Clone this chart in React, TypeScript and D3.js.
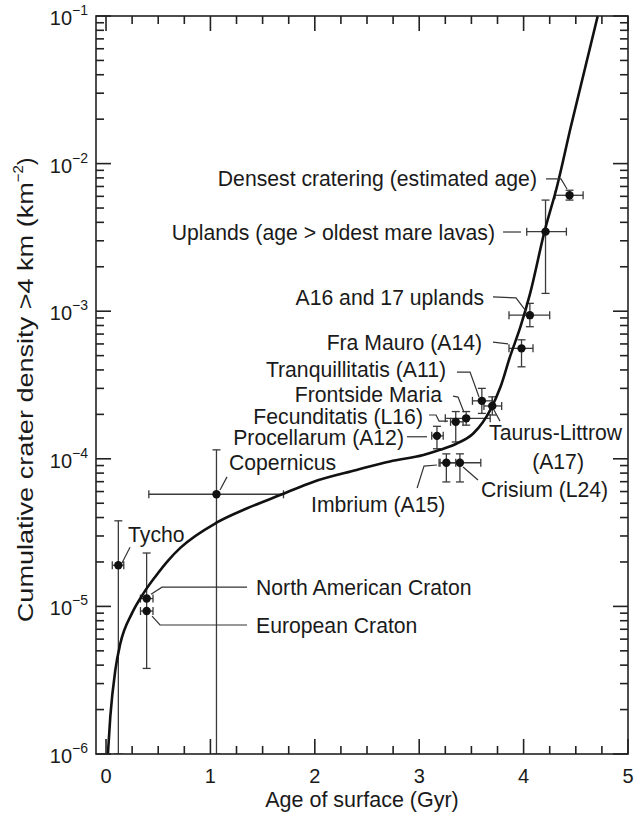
import React from "react";
import * as d3 from "d3";

const W = 639;
const H = 817;
const FRAME = { left: 96, right: 628, top: 16, bottom: 754 };
const FONT = "'Liberation Sans', Arial, Helvetica, sans-serif";
const INK = "#1a1a1a";

// Crater-production curve: age (Gyr) vs cumulative density of craters > 4 km (km^-2)
const curveAge = [0.018, 0.041, 0.089, 0.137, 0.248, 0.36, 0.472, 0.599, 0.714, 1.058, 1.352, 1.687, 1.99, 2.4, 2.72, 3.04, 3.2, 3.36, 3.52, 3.68, 3.78, 3.87, 3.97, 4.06, 4.2, 4.32, 4.45, 4.71];
const curveDensity = [1.0e-6, 1.79e-6, 3.7e-6, 5.6e-6, 8.97e-6, 1.23e-5, 1.59e-5, 2.06e-5, 2.5e-5, 3.69e-5, 4.62e-5, 5.75e-5, 7.0e-5, 8.4e-5, 9.6e-5, 1.06e-4, 1.15e-4, 1.27e-4, 1.49e-4, 2.14e-4, 3.09e-4, 4.92e-4, 7.85e-4, 1.3e-3, 3.46e-3, 7.0e-3, 1.75e-2, 1.0e-1];

// Dated surfaces with age and density uncertainties
const surfaceNames = ["Tycho", "Copernicus", "North American Craton", "European Craton", "Procellarum (A12)", "Fecunditatis (L16)", "Frontside Maria", "Tranquillitatis (A11)", "Taurus-Littrow (A17)", "Imbrium (A15)", "Crisium (L24)", "Fra Mauro (A14)", "A16 and 17 uplands", "Uplands", "Densest cratering"];
const surfaceAge = [0.118, 1.058, 0.389, 0.389, 3.17, 3.35, 3.45, 3.6, 3.7, 3.26, 3.39, 3.98, 4.06, 4.21, 4.44];
const ageLow = [0.06, 0.41, 0.33, 0.33, 3.12, 3.3, 3.25, 3.51, 3.62, 3.19, 3.2, 3.86, 3.86, 4.03, 4.3];
const ageHigh = [0.17, 1.7, 0.45, 0.45, 3.23, 3.42, 3.68, 3.7, 3.79, 3.35, 3.59, 4.09, 4.25, 4.41, 4.57];
const surfaceDensity = [1.9e-5, 5.75e-5, 1.13e-5, 9.3e-6, 1.43e-4, 1.78e-4, 1.88e-4, 2.47e-4, 2.28e-4, 9.4e-5, 9.4e-5, 5.6e-4, 9.4e-4, 3.46e-3, 6.1e-3];
const densityLow = [1e-6, 1e-6, 3.8e-6, 9.3e-6, 1.17e-4, 1.3e-4, 1.69e-4, 2.03e-4, 1.98e-4, 6.97e-5, 6.97e-5, 4.2e-4, 7.85e-4, 1.32e-3, 5.66e-3];
const densityHigh = [3.8e-5, 1.15e-4, 2.3e-5, 9.3e-6, 1.66e-4, 2.09e-4, 2.09e-4, 3.0e-4, 2.63e-4, 1.08e-4, 1.08e-4, 6.4e-4, 1.13e-3, 5.66e-3, 6.6e-3];

const xTicks = d3.range(0, 5.001, 0.25);
const xLabels = [0, 1, 2, 3, 4, 5];
const decadeExponents = [-1, -2, -3, -4, -5, -6];

// Annotation layout in data units: label anchor and leader-line vertices
type Note = { lines: string[]; at: [number, number]; anchor: "start" | "end"; leader: [number, number][] };
const notes: Note[] = [
  { lines: ["Densest cratering (estimated age)"], at: [4.128, 7.98e-3], anchor: "end", leader: [[4.215, 7.87e-3], [4.358, 7.87e-3], [4.416, 6.73e-3]] },
  { lines: ["Uplands (age > oldest mare lavas)"], at: [3.726, 3.44e-3], anchor: "end", leader: [[3.803, 3.44e-3], [3.975, 3.44e-3]] },
  { lines: ["A16 and 17 uplands"], at: [3.621, 1.23e-3], anchor: "end", leader: [[3.707, 1.25e-3], [3.927, 1.23e-3], [4.023, 1.0e-3]] },
  { lines: ["Fra Mauro (A14)"], at: [3.602, 6.1e-4], anchor: "end", leader: [[3.707, 6.18e-4], [3.851, 6.0e-4]] },
  { lines: ["Tranquillitatis (A11)"], at: [3.257, 4.0e-4], anchor: "end", leader: [[3.362, 3.87e-4], [3.487, 3.87e-4], [3.573, 2.62e-4]] },
  { lines: ["Frontside Maria"], at: [3.218, 2.72e-4], anchor: "end", leader: [[3.324, 2.66e-4], [3.372, 2.62e-4], [3.429, 2.07e-4]] },
  { lines: ["Fecunditatis (L16)"], at: [3.036, 1.93e-4], anchor: "end", leader: [[3.094, 1.98e-4], [3.161, 1.98e-4], [3.19, 1.8e-4], [3.276, 1.8e-4]] },
  { lines: ["Procellarum (A12)"], at: [2.854, 1.4e-4], anchor: "end", leader: [[2.883, 1.41e-4], [3.075, 1.41e-4]] },
  { lines: ["Copernicus"], at: [1.178, 9.37e-5], anchor: "start", leader: [[1.159, 7.54e-5], [1.092, 6.15e-5]] },
  { lines: ["Imbrium (A15)"], at: [1.964, 4.94e-5], anchor: "start", leader: [[2.98, 6.34e-5], [3.046, 8.93e-5], [3.17, 9.08e-5]] },
  { lines: ["Crisium (L24)"], at: [3.592, 6.15e-5], anchor: "start", leader: [[3.42, 8.8e-5], [3.563, 7.18e-5]] },
  { lines: ["Taurus-Littrow", "(A17)"], at: [3.669, 1.5e-4], anchor: "start", leader: [[3.716, 2.14e-4], [3.774, 1.8e-4]] },
  { lines: ["Tycho"], at: [0.211, 3.05e-5], anchor: "start", leader: [[0.23, 2.52e-5], [0.153, 1.97e-5]] },
  { lines: ["North American Craton"], at: [1.437, 1.35e-5], anchor: "start", leader: [[1.351, 1.35e-5], [0.536, 1.35e-5], [0.431, 1.21e-5]] },
  { lines: ["European Craton"], at: [1.437, 7.48e-6], anchor: "start", leader: [[1.351, 7.48e-6], [0.517, 7.48e-6], [0.441, 8.6e-6]] },
];

export default function App() {
  const x = d3.scaleLinear().domain([-0.096, 5]).range([FRAME.left, FRAME.right]);
  const y = d3.scaleLog().domain([1e-6, 1e-1]).range([FRAME.bottom, FRAME.top]);

  const curvePts: [number, number][] = curveAge.map((a, i) => [a, curveDensity[i]]);
  const curvePath = d3
    .line<[number, number]>()
    .x((d) => x(d[0]))
    .y((d) => y(d[1]))
    .curve(d3.curveMonotoneX)(curvePts) as string;

  const leaderPath = d3
    .line<[number, number]>()
    .x((d) => x(d[0]))
    .y((d) => y(d[1]));

  const yTicks = y.ticks();
  const isDecade = (v: number) => Math.abs(Math.log10(v) - Math.round(Math.log10(v))) < 1e-6;

  const MAJOR = 15;
  const MINOR = 8;
  const CAP = 4;
  const LABEL_SIZE = 21.2;

  return (
    <svg
      width={W}
      height={H}
      viewBox={`0 0 ${W} ${H}`}
      style={{ position: "absolute", left: 0, top: 0, display: "block", background: "#fff" }}
      fontFamily={FONT}
    >
      <defs>
        <clipPath id="plot-area">
          <rect x={FRAME.left} y={FRAME.top} width={FRAME.right - FRAME.left} height={FRAME.bottom - FRAME.top} />
        </clipPath>
      </defs>

      {/* error bars */}
      <g clipPath="url(#plot-area)" stroke="#3a3a3a" strokeWidth={1.3} fill="none">
        {surfaceNames.map((name, i) => {
          const cx = x(surfaceAge[i]);
          const cy = y(surfaceDensity[i]);
          const x0 = x(ageLow[i]);
          const x1 = x(ageHigh[i]);
          const yTop = y(densityHigh[i]);
          const yBot = y(densityLow[i]);
          return (
            <g key={name}>
              <line x1={x0} x2={x1} y1={cy} y2={cy} />
              <line x1={x0} x2={x0} y1={cy - CAP} y2={cy + CAP} />
              <line x1={x1} x2={x1} y1={cy - CAP} y2={cy + CAP} />
              {yBot - yTop > 0.5 && (
                <>
                  <line x1={cx} x2={cx} y1={yTop} y2={yBot} />
                  <line x1={cx - CAP} x2={cx + CAP} y1={yTop} y2={yTop} />
                  <line x1={cx - CAP} x2={cx + CAP} y1={yBot} y2={yBot} />
                </>
              )}
            </g>
          );
        })}
      </g>

      {/* production curve */}
      <g clipPath="url(#plot-area)">
        <path d={curvePath} fill="none" stroke="#111" strokeWidth={2.6} />
      </g>

      {/* dated surfaces */}
      <g fill="#111">
        {surfaceNames.map((name, i) => (
          <circle key={name} cx={x(surfaceAge[i])} cy={y(surfaceDensity[i])} r={4.2} />
        ))}
      </g>

      {/* leaders and labels */}
      <g stroke="#333" strokeWidth={1.2} fill="none">
        {notes.map((n) => (
          <path key={n.lines[0]} d={leaderPath(n.leader) as string} />
        ))}
      </g>
      <g fill={INK} fontSize={LABEL_SIZE}>
        {notes.map((n) => {
          const tx = x(n.at[0]);
          const ty = y(n.at[1]);
          if (n.lines.length === 1) {
            return (
              <text key={n.lines[0]} x={tx} y={ty} textAnchor={n.anchor} dominantBaseline="central">
                {n.lines[0]}
              </text>
            );
          }
          return (
            <g key={n.lines[0]}>
              <text x={tx} y={ty} textAnchor="start" dominantBaseline="central">
                {n.lines[0]}
              </text>
              <text x={tx + 69} y={ty + 29} textAnchor="middle" dominantBaseline="central">
                {n.lines[1]}
              </text>
            </g>
          );
        })}
      </g>

      {/* frame */}
      <rect x={FRAME.left} y={FRAME.top} width={FRAME.right - FRAME.left} height={FRAME.bottom - FRAME.top} fill="none" stroke="#222" strokeWidth={1.6} />

      {/* ticks on all four sides, pointing inward */}
      <g stroke="#222" strokeWidth={1.6}>
        {xTicks.map((t) => {
          const len = Number.isInteger(t) ? MAJOR : MINOR;
          const px = x(t);
          return (
            <g key={`xt${t}`}>
              <line x1={px} x2={px} y1={FRAME.bottom} y2={FRAME.bottom - len} />
              <line x1={px} x2={px} y1={FRAME.top} y2={FRAME.top + len} />
            </g>
          );
        })}
        {yTicks.map((t, i) => {
          const len = isDecade(t) ? MAJOR : MINOR;
          const py = y(t);
          return (
            <g key={`yt${i}`}>
              <line x1={FRAME.left} x2={FRAME.left + len} y1={py} y2={py} />
              <line x1={FRAME.right} x2={FRAME.right - len} y1={py} y2={py} />
            </g>
          );
        })}
      </g>

      {/* tick labels */}
      <g fill={INK} fontSize={20}>
        {xLabels.map((t) => (
          <text key={`xl${t}`} x={x(t)} y={FRAME.bottom + 22} textAnchor="middle" dominantBaseline="central">
            {t}
          </text>
        ))}
        {decadeExponents.map((e) => (
          <text key={`yl${e}`} x={88} y={y(Math.pow(10, e)) + 2} textAnchor="end" dominantBaseline="central">
            10
            <tspan fontSize={14} dy={-8}>{`\u2212${-e}`}</tspan>
          </text>
        ))}
      </g>

      {/* axis titles */}
      <text x={(FRAME.left + FRAME.right) / 2} y={800} textAnchor="middle" dominantBaseline="central" fill={INK} fontSize={21.5}>
        Age of surface (Gyr)
      </text>
      <text
        transform={`translate(25, 390) rotate(-90)`}
        textAnchor="middle"
        dominantBaseline="central"
        fill={INK}
        fontSize={22}
      >
        <tspan textLength={440} lengthAdjust="spacingAndGlyphs">Cumulative crater density &gt;4 km (km</tspan>
        <tspan fontSize={15} dy={-8}>{"\u22122"}</tspan>
        <tspan dy={8}>)</tspan>
      </text>
    </svg>
  );
}
